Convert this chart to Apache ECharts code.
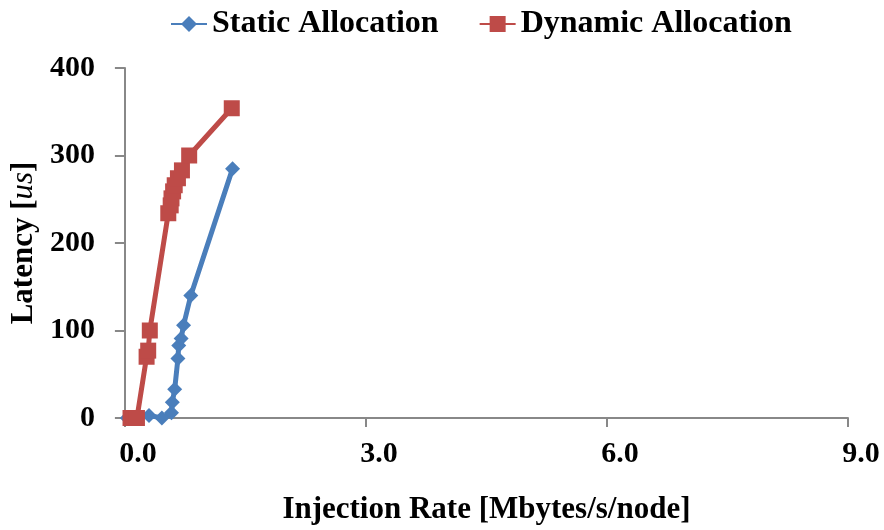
<html>
<head>
  <meta charset="utf-8" />
  <script src="https://cdn.jsdelivr.net/npm/echarts@6.0.0/dist/echarts.min.js"></script>
  <style>
    html, body { margin: 0; padding: 0; background: #fff; }
    #chart { width: 884px; height: 530px; }
  </style>
</head>
<body>
  <div id="chart"></div>
  <script>
    // values: [rate, latency]
    var staticRate = [0.03, 0.30, 0.46, 0.58, 0.59, 0.62, 0.66, 0.67, 0.70, 0.73, 0.82, 1.34];
    var staticLatency = [0, 3, 0, 6, 18, 33, 68, 83, 91, 106, 140, 285];
    var dynamicRate = [0.07, 0.11, 0.15, 0.27, 0.29, 0.31, 0.54, 0.57, 0.58, 0.60, 0.62, 0.66, 0.71, 0.80, 1.33];
    var dynamicLatency = [0, 0, 0, 70, 77, 100, 234, 243, 251, 259, 266, 274, 283, 300, 354];
    var xTicks = [0, 3, 6, 9];
    var yTicks = [0, 100, 200, 300, 400];

    var font = '"Liberation Serif", "Times New Roman", serif';
    var axisGray = '#888888';

    function pairs(xs, ys) {
      return xs.map(function (x, i) { return [x, ys[i]]; });
    }

    var chart = echarts.init(document.getElementById('chart'));
    chart.setOption({
      animation: false,
      textStyle: { fontFamily: font, color: '#000' },
      legend: {
        left: 165,
        top: 3,
        itemWidth: 36,
        itemHeight: 20,
        itemGap: 40,
        textStyle: { fontFamily: font, fontWeight: 'bold', fontSize: 32, color: '#000' },
        data: ['Static Allocation', 'Dynamic Allocation']
      },
      grid: { left: 123, right: 36, top: 68, bottom: 112 },
      xAxis: {
        type: 'value',
        min: xTicks[0],
        max: xTicks[xTicks.length - 1],
        interval: 3,
        name: 'Injection Rate [Mbytes/s/node]',
        nameLocation: 'middle',
        nameGap: 76,
        nameTextStyle: { fontFamily: font, fontWeight: 'bold', fontSize: 31, color: '#000' },
        axisLine: { onZero: false, lineStyle: { color: axisGray, width: 2 } },
        axisTick: { show: true, inside: false, length: 9, lineStyle: { color: axisGray, width: 2 } },
        splitLine: { show: false },
        axisLabel: {
          margin: 21,
          padding: [0, 0, 0, 26],
          fontFamily: font, fontWeight: 'bold', fontSize: 30, color: '#000',
          formatter: function (v) { return v.toFixed(1); }
        }
      },
      yAxis: {
        type: 'value',
        min: yTicks[0],
        max: yTicks[yTicks.length - 1],
        interval: 100,
        name: 'Latency [{i|us}]',
        nameLocation: 'middle',
        nameRotate: 90,
        nameGap: 82,
        nameTextStyle: {
          fontFamily: font, fontWeight: 'bold', fontSize: 31, color: '#000',
          rich: {
            i: { fontFamily: font, fontStyle: 'italic', fontWeight: 'normal', fontSize: 31, color: '#000' }
          }
        },
        axisLine: { show: true, lineStyle: { color: axisGray, width: 2 } },
        axisTick: { show: true, inside: false, length: 10, lineStyle: { color: axisGray, width: 2 } },
        splitLine: { show: false },
        axisLabel: { margin: 30, fontFamily: font, fontWeight: 'bold', fontSize: 30, color: '#000' }
      },
      series: [
        {
          name: 'Static Allocation',
          type: 'line',
          data: pairs(staticRate, staticLatency),
          symbol: 'diamond',
          symbolSize: 15,
          color: '#4A7EBB',
          lineStyle: { width: 5, color: '#4A7EBB' },
          itemStyle: { color: '#4A7EBB' }
        },
        {
          name: 'Dynamic Allocation',
          type: 'line',
          data: pairs(dynamicRate, dynamicLatency),
          symbol: 'rect',
          symbolSize: 16,
          color: '#BE4B48',
          lineStyle: { width: 5, color: '#BE4B48' },
          itemStyle: { color: '#BE4B48' }
        }
      ]
    });
  </script>
</body>
</html>
